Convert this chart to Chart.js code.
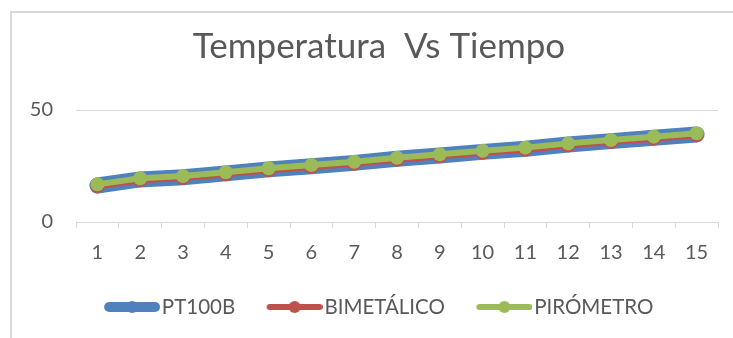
<!DOCTYPE html>
<html>
<head>
<meta charset="utf-8">
<script src="https://cdn.jsdelivr.net/npm/chart.js@4/dist/chart.umd.min.js"></script>
<style>
  html, body { margin: 0; padding: 0; background: #fff; overflow: hidden; }
  #frame { position: absolute; left: 10px; top: 11px; width: 760px; height: 360px;
           border-left: 2px solid #d9d9d9; border-top: 2px solid #d9d9d9; }
  #wrap { position: absolute; left: 0; top: 0; width: 733px; height: 338px; }
</style>
</head>
<body>
<div id="frame"></div>
<div id="wrap"><canvas id="chart" width="733" height="338"></canvas></div>
<script>
const labels = ['1', '2', '3', '4', '5', '6', '7', '8', '9', '10', '11', '12', '13', '14', '15']
const pt100b = [16.3, 19.0, 20.0, 21.7, 23.5, 24.9, 26.4, 28.2, 29.7, 31.3, 32.7, 34.6, 36.1, 37.6, 39.1]
const bimetalico = [15.9, 18.6, 19.6, 21.3, 23.1, 24.5, 26.0, 27.8, 29.3, 30.9, 32.3, 34.2, 35.7, 37.2, 38.7]
const pirometro = [16.8, 19.5, 20.5, 22.2, 24.0, 25.4, 26.9, 28.7, 30.2, 31.8, 33.2, 35.1, 36.6, 38.1, 39.6]
const seriesNames = ['PT100B', 'BIMETÁLICO', 'PIRÓMETRO']
const yMin = 0
const yMax = 50
const yStep = 50

const blue = '#4f81bd'
const red = '#c0504d'
const green = '#9bbb59'
const textColor = '#595959'
const gridColor = '#d9d9d9'
const fontFamily = 'Lato, "Open Sans", sans-serif'

// legend marker: a short line with a dot, drawn at the right end of the image
const markBox = 69
const markWidth = 86
const markLine = 56
function legendMark(color, lineWidth, radius) {
    const c = document.createElement('canvas')
    c.width = markWidth
    c.height = 20
    const ctx = c.getContext('2d')
    ctx.strokeStyle = color
    ctx.fillStyle = color
    ctx.lineWidth = lineWidth
    ctx.lineCap = 'round'
    const x0 = markWidth - markLine + lineWidth / 2
    const x1 = markWidth - lineWidth / 2
    ctx.beginPath()
    ctx.moveTo(x0, 10)
    ctx.lineTo(x1, 10)
    ctx.stroke()
    ctx.beginPath()
    ctx.arc((x0 + x1) / 2, 10, radius, 0, Math.PI * 2)
    ctx.fill()
    return c
}
const legendMarks = [legendMark(blue, 10, 6), legendMark(red, 6, 6), legendMark(green, 6, 6)]

// move title / legend sideways like the original layout
const nudge = {
    id: 'nudge',
    afterLayout(chart) {
        const t = chart.titleBlock
        t.left = 25
        t.right = chart.width
        const l = chart.legend
        l.left += 9
        l.right += 9
    }
}

function lineSet(label, data, color, width, radius, order) {
    return {
        label: label,
        data: data,
        borderColor: color,
        backgroundColor: color,
        borderWidth: width,
        borderCapStyle: 'round',
        borderJoinStyle: 'round',
        pointRadius: radius,
        pointHoverRadius: radius,
        pointBorderWidth: 0,
        pointBackgroundColor: color,
        tension: 0,
        order: order
    }
}

new Chart(document.getElementById('chart'), {
    type: 'line',
    data: {
        labels: labels,
        datasets: [
            lineSet(seriesNames[0], pt100b, blue, 16, 6, 3),
            lineSet(seriesNames[1], bimetalico, red, 6, 7, 2),
            lineSet(seriesNames[2], pirometro, green, 6, 7, 1)
        ]
    },
    plugins: [nudge],
    options: {
        responsive: false,
        animation: false,
        events: [],
        layout: { padding: { left: 0, right: 15, top: 0, bottom: 10.75 } },
        scales: {
            x: {
                offset: true,
                grid: { offset: true, drawOnChartArea: false, drawTicks: true, tickLength: 6, color: gridColor },
                border: { color: gridColor, width: 1 },
                ticks: { color: textColor, font: { family: fontFamily, size: 20 }, padding: 13, maxRotation: 0, autoSkip: false },
                afterFit(scale) { scale.height = 64.75 }
            },
            y: {
                min: yMin,
                max: yMax,
                grid: { color: gridColor, drawTicks: false },
                border: { display: false },
                ticks: { stepSize: yStep, color: textColor, font: { family: fontFamily, size: 20 }, padding: 23 },
                afterFit(scale) { scale.width = 76 }
            }
        },
        plugins: {
            tooltip: { enabled: false },
            title: {
                display: true,
                text: 'Temperatura  Vs Tiempo',
                color: textColor,
                font: { family: fontFamily, size: 35, weight: 'normal' },
                padding: { top: 26, bottom: 42 }
            },
            legend: {
                position: 'bottom',
                labels: {
                    usePointStyle: true,
                    pointStyleWidth: markBox,
                    padding: 10,
                    color: textColor,
                    font: { family: fontFamily, size: 20.5 },
                    sort: (a, b) => a.datasetIndex - b.datasetIndex,
                    generateLabels(chart) {
                        const items = Chart.defaults.plugins.legend.labels.generateLabels(chart)
                        items.forEach(item => { item.pointStyle = legendMarks[item.datasetIndex] })
                        return items
                    }
                }
            }
        }
    }
})
</script>
</body>
</html>
